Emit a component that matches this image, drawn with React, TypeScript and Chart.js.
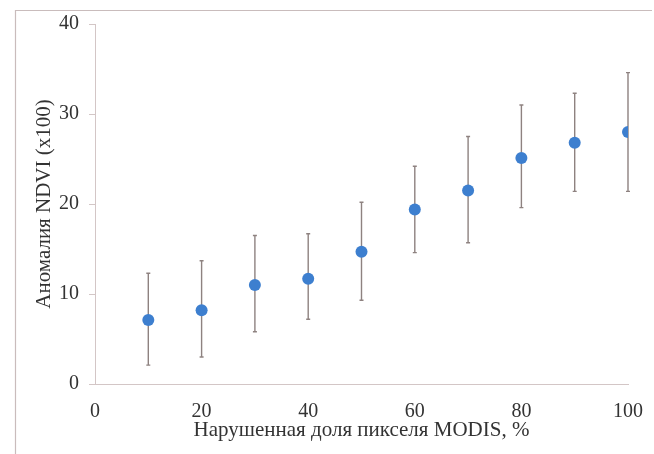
import React, { useEffect, useRef } from "react";
import { Chart, registerables } from "chart.js";

Chart.register(...registerables);

const xValues = [10, 20, 30, 40, 50, 60, 70, 80, 90, 100];
const meanValues = [7.1, 8.2, 11.0, 11.7, 14.7, 19.4, 21.5, 25.1, 26.8, 28.0];
const upperValues = [12.3, 13.7, 16.5, 16.7, 20.2, 24.2, 27.5, 31.0, 32.3, 34.6];
const lowerValues = [2.1, 3.0, 5.8, 7.2, 9.3, 14.6, 15.7, 19.6, 21.4, 21.4];

const xTitle = "Нарушенная доля пикселя MODIS, %";
const yTitle = "Аномалия NDVI (x100)";

const FONT = "'Liberation Serif', 'Times New Roman', serif";

const errorBarPlugin = {
  id: "errorBars",
  beforeDatasetsDraw(chart: any) {
    const { ctx, scales } = chart;
    const xs = scales.x;
    const ys = scales.y;
    ctx.save();
    ctx.strokeStyle = "#8e8280";
    ctx.lineWidth = 1.4;
    xValues.forEach((xv, i) => {
      const px = xs.getPixelForValue(xv);
      const top = ys.getPixelForValue(upperValues[i]);
      const bot = ys.getPixelForValue(lowerValues[i]);
      ctx.beginPath();
      ctx.moveTo(px, top);
      ctx.lineTo(px, bot);
      ctx.moveTo(px - 2, top);
      ctx.lineTo(px + 2, top);
      ctx.moveTo(px - 2, bot);
      ctx.lineTo(px + 2, bot);
      ctx.stroke();
    });
    ctx.restore();
  },
};

const framePlugin = {
  id: "frame",
  beforeDraw(chart: any) {
    const { ctx } = chart;
    ctx.save();
    ctx.strokeStyle = "#c9bcbc";
    ctx.lineWidth = 1.2;
    ctx.beginPath();
    ctx.moveTo(15.5, 454);
    ctx.lineTo(15.5, 10.5);
    ctx.lineTo(652, 10.5);
    ctx.stroke();
    ctx.restore();
  },
};

export default function App() {
  const canvasRef = useRef<HTMLCanvasElement | null>(null);

  useEffect(() => {
    if (!canvasRef.current) return;
    const chart = new Chart(canvasRef.current, {
      type: "scatter",
      data: {
        datasets: [
          {
            label: "NDVI",
            data: xValues.map((x, i) => ({ x, y: meanValues[i] })),
            backgroundColor: "#3d7fcf",
            borderColor: "#3d7fcf",
            borderWidth: 0,
            pointRadius: 6,
            pointHoverRadius: 6,
          },
        ],
      },
      options: {
        responsive: false,
        animation: false,
        layout: { padding: { top: 24, right: 26, left: 0, bottom: 0 } },
        plugins: {
          legend: { display: false },
          tooltip: { enabled: false },
        },
        scales: {
          x: {
            type: "linear",
            min: 0,
            max: 100,
            afterFit: (s: any) => {
              s.height = 70;
              s.paddingLeft = 0;
              s.paddingRight = 0;
            },
            ticks: {
              stepSize: 20,
              color: "#333",
              padding: 16,
              font: { family: FONT, size: 20 },
            },
            grid: { display: true, drawOnChartArea: false, drawTicks: false },
            border: { display: true, color: "#d3c6c6", width: 1 },
            title: {
              display: true,
              text: xTitle,
              color: "#333",
              font: { family: FONT, size: 21 },
              padding: { top: 0, bottom: 11 },
            },
          },
          y: {
            type: "linear",
            min: 0,
            max: 40,
            afterFit: (s: any) => {
              s.width = 95;
              s.paddingTop = 0;
              s.paddingBottom = 0;
            },
            ticks: {
              stepSize: 10,
              color: "#333",
              padding: 10,
              font: { family: FONT, size: 20 },
            },
            grid: {
              display: true,
              drawOnChartArea: false,
              drawTicks: true,
              tickLength: 6,
              color: "#d3c6c6",
            },
            border: { display: true, color: "#d3c6c6", width: 1 },
            title: {
              display: true,
              text: yTitle,
              color: "#333",
              font: { family: FONT, size: 21 },
              padding: { top: 32, bottom: 0 },
            },
          },
        },
      },
      plugins: [framePlugin, errorBarPlugin],
    });
    return () => chart.destroy();
  }, []);

  return (
    <div style={{ position: "absolute", left: 0, top: 0, width: 654, height: 454, background: "#fff" }}>
      <canvas ref={canvasRef} width={654} height={454} style={{ display: "block" }} />
    </div>
  );
}
